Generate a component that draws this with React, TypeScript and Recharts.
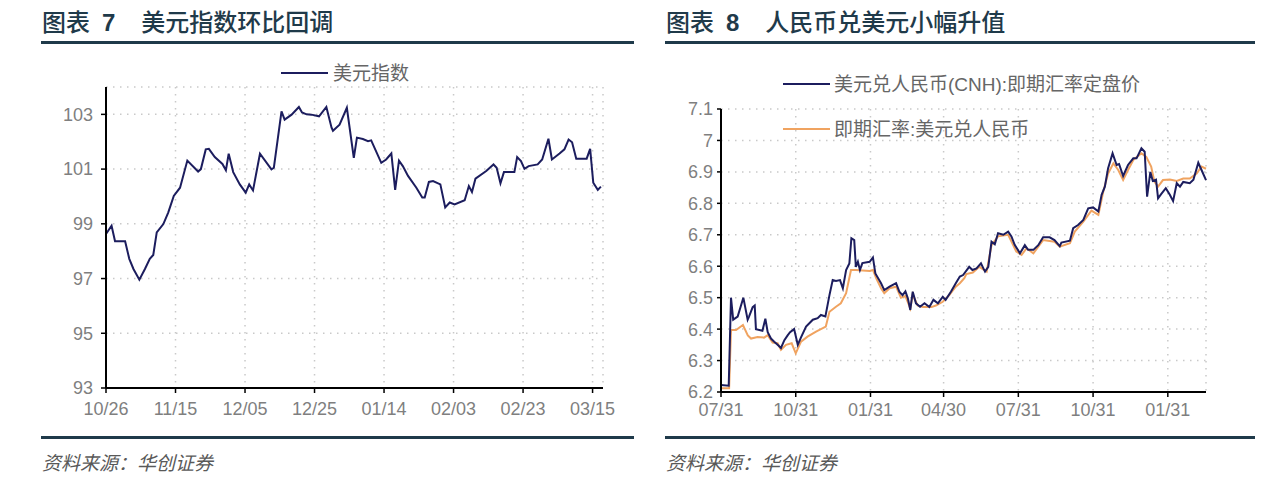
import React from 'react';
import { LineChart, Line, XAxis, YAxis, CartesianGrid } from 'recharts';

// 图表7：美元指数（横轴为距 10/26 的天数）
const dxyTickDays = [0, 20, 40, 60, 80, 100, 120, 140];
const dxyTickLabels = ['10/26', '11/15', '12/05', '12/25', '01/14', '02/03', '02/23', '03/15'];
const dxyYTicks = [93, 95, 97, 99, 101, 103];
const dxyDays = [
  0, 1.6, 2.6, 5.5, 6.7, 7.9, 9.6, 11.2, 12.6, 13.6, 14.6, 16.5, 17.9, 19.5, 21.3, 23.4, 26.5, 27.3, 28.7, 29.6,
  31.3, 33.5, 34.5, 35.3, 36.6, 38.5, 40.2, 41.2, 42.3, 44.3, 47.6, 48.3, 50.5, 51.4, 53.4, 55.5, 56.4, 57.7, 59.1, 61.3,
  63.4, 64.9, 65.3, 67.2, 69.3, 71.3, 72.2, 73.9, 75.4, 76.3, 79.2, 80.6, 82.1, 83.2, 84.3, 85.4, 86.9, 89.3, 91, 91.7,
  92.9, 94.1, 96.2, 97.6, 98.9, 100.3, 103.2, 104.4, 105.3, 106.3, 109.4, 111.5, 112.4, 113.5, 114.5, 117.5, 118.3, 119.4, 120.4, 121.6,
  124.2, 125.5, 127.3, 128.3, 130.5, 131.9, 133.1, 134.1, 135.3, 138.3, 139.3, 140.2, 141.5, 142.4,
];
const dxyValues = [
  98.63, 98.93, 98.36, 98.36, 97.72, 97.35, 96.96, 97.35, 97.72, 97.86, 98.69, 98.99, 99.41, 100.02, 100.32, 101.31, 100.91, 101.0, 101.72, 101.74,
  101.44, 101.19, 100.96, 101.56, 100.89, 100.44, 100.14, 100.44, 100.22, 101.56, 100.99, 101.05, 103.11, 102.81, 102.99, 103.27, 103.07, 103.0, 102.99, 102.93,
  103.27, 102.51, 102.4, 102.62, 103.24, 101.41, 102.15, 102.1, 102.02, 102.05, 101.23, 101.35, 101.57, 100.24, 101.31, 101.11, 100.75, 100.32, 99.96, 99.96,
  100.53, 100.56, 100.44, 99.6, 99.78, 99.71, 99.86, 100.38, 100.16, 100.65, 100.93, 101.17, 101.05, 100.48, 100.89, 100.89, 101.44, 101.29, 101.01, 101.11,
  101.17, 101.35, 102.11, 101.35, 101.57, 101.72, 102.08, 101.98, 101.38, 101.38, 101.74, 100.5, 100.24, 100.36,
];

// 图表8：人民币汇率（横轴为距 2015/07/31 的天数）
const fxTickDays = [0, 92, 184, 274, 366, 458, 550];
const fxTickLabels = ['07/31', '10/31', '01/31', '04/30', '07/31', '10/31', '01/31'];
const fxYTicks = [6.2, 6.3, 6.4, 6.5, 6.6, 6.7, 6.8, 6.9, 7.0, 7.1];
const cnhDays = [
  0, 9.5, 12.3, 15, 20.5, 27.5, 32.8, 34.5, 39, 41.5, 43, 51, 54.6, 57.5, 61.5, 65.5, 69.7, 73.8, 78, 82,
  85, 90, 94.5, 98.5, 104.7, 113, 119, 123, 128.5, 133.5, 137.5, 141.5, 146.5, 150, 154, 158, 160.5, 164, 166, 168.5,
  171, 174, 183, 187, 190, 197, 201, 207.5, 215.5, 219.5, 223.5, 227, 230, 233, 236, 240, 245, 250.5, 256.5, 261.5,
  267, 273, 276.5, 283, 289, 294, 298, 305.5, 309.5, 314.5, 320, 323, 325, 329, 333, 337, 341, 347.5, 353.5, 357.5,
  361.5, 368, 374, 378, 384.5, 390.5, 396.5, 404.5, 410.5, 417, 419, 429.5, 433.5, 439.5, 446, 452, 458, 464.5, 468.5, 472.5,
  476.5, 482, 487, 490, 495, 501, 507.5, 511.5, 517.5, 521.5, 524.5, 528.5, 531.5, 535.5, 538, 542, 547.5, 552.5, 556.5, 561,
  565, 569, 577, 581.5, 587.5, 591.5, 597,
];
const cnhValues = [
  6.222, 6.22, 6.5, 6.43, 6.44, 6.5, 6.43, 6.44, 6.47, 6.475, 6.4, 6.395, 6.433, 6.39, 6.37, 6.36, 6.35, 6.34, 6.365, 6.38,
  6.39, 6.4, 6.35, 6.374, 6.408, 6.43, 6.435, 6.445, 6.44, 6.508, 6.556, 6.553, 6.556, 6.53, 6.588, 6.609, 6.689, 6.683, 6.598, 6.614,
  6.588, 6.61, 6.614, 6.628, 6.577, 6.546, 6.524, 6.535, 6.546, 6.519, 6.508, 6.52, 6.498, 6.461, 6.519, 6.482, 6.471, 6.482, 6.47, 6.493,
  6.482, 6.503, 6.493, 6.519, 6.546, 6.567, 6.572, 6.598, 6.588, 6.593, 6.609, 6.593, 6.583, 6.598, 6.678, 6.67, 6.705, 6.7, 6.71, 6.695,
  6.668, 6.641, 6.667, 6.652, 6.652, 6.667, 6.692, 6.692, 6.683, 6.664, 6.675, 6.681, 6.721, 6.731, 6.747, 6.784, 6.787, 6.774, 6.827, 6.853,
  6.912, 6.959, 6.922, 6.925, 6.887, 6.922, 6.943, 6.943, 6.975, 6.964, 6.821, 6.9, 6.871, 6.875, 6.816, 6.83, 6.848, 6.827, 6.807, 6.864,
  6.853, 6.868, 6.864, 6.875, 6.929, 6.906, 6.874,
];
const spotDays = [
  0, 10, 12.3, 18.5, 27, 33, 37, 45, 53, 57.5, 63.5, 69.7, 73.8, 80, 87, 92, 98.5, 106.5, 117, 129,
  133.5, 141.5, 147.5, 154, 160, 166, 183, 187, 191, 197, 201, 207.5, 215.5, 221.5, 227, 233, 236, 242, 248.5, 259,
  264.5, 273, 281, 289, 294, 299.5, 302, 310, 318, 327, 333, 341, 353.5, 363.5, 370, 376, 384.5, 396.5, 410.5, 417,
  429.5, 435.5, 446, 456, 464.5, 470.5, 476.5, 483, 489, 495, 501, 507.5, 517.5, 523.5, 529.5, 533.5, 538, 544, 552.5, 561,
  569, 577, 585.5, 591.5, 597,
];
const spotValues = [
  6.212, 6.212, 6.397, 6.397, 6.413, 6.38, 6.37, 6.375, 6.373, 6.381, 6.357, 6.355, 6.334, 6.35, 6.355, 6.323, 6.36, 6.376, 6.392, 6.408,
  6.455, 6.471, 6.482, 6.514, 6.588, 6.588, 6.585, 6.588, 6.562, 6.53, 6.514, 6.53, 6.535, 6.5, 6.505, 6.466, 6.51, 6.475, 6.47, 6.47,
  6.475, 6.487, 6.508, 6.535, 6.546, 6.562, 6.575, 6.58, 6.598, 6.583, 6.667, 6.695, 6.7, 6.647, 6.636, 6.657, 6.641, 6.683, 6.678, 6.662,
  6.673, 6.71, 6.742, 6.777, 6.763, 6.837, 6.895, 6.927, 6.906, 6.874, 6.906, 6.938, 6.959, 6.948, 6.917, 6.869, 6.853, 6.874, 6.876, 6.871,
  6.879, 6.879, 6.895, 6.917, 6.91,
];

const dxyData = dxyDays.map((d, i) => ({ d, v: dxyValues[i] }));
const cnhData = cnhDays.map((d, i) => ({ d, v: cnhValues[i] }));
const spotData = spotDays.map((d, i) => ({ d, v: spotValues[i] }));

const NAVY = '#1c1d5e';
const ORANGE = '#f0a360';
const RULE = '#1f3a4a';
const CJK = '"Noto Sans CJK SC", sans-serif';
const tickFont = { fontSize: 18, fill: '#7f7f7f', fontFamily: '"Liberation Sans", Arial, sans-serif' };
const legendText = { position: 'absolute' as const, fontSize: 19, lineHeight: '24px', color: '#666', fontFamily: '"Liberation Sans", ' + CJK, whiteSpace: 'nowrap' as const };

function Panel({ left, width, no, title }: { left: number; width: number; no: string; title: string }) {
  return (
    <>
      <div style={{ position: 'absolute', left: left + 1, top: 6, fontSize: 24, lineHeight: '30px', color: RULE, fontFamily: CJK, fontWeight: 500, whiteSpace: 'nowrap' }}>
        <span>图表</span>
        <span style={{ marginLeft: 12, fontFamily: '"Liberation Sans", Arial', fontWeight: 700 }}>{no}</span>
        <span style={{ marginLeft: 26 }}>{title}</span>
      </div>
      <div style={{ position: 'absolute', left, top: 41, width, height: 3, background: RULE }} />
      <div style={{ position: 'absolute', left, top: 436, width, height: 3, background: RULE }} />
      <div style={{ position: 'absolute', left: left + 1, top: 449, fontSize: 19, lineHeight: '26px', color: '#595959', fontFamily: CJK, fontStyle: 'italic' }}>
        资料来源：华创证券
      </div>
    </>
  );
}

export default function App() {
  return (
    <div style={{ position: 'absolute', left: 0, top: 0, width: 1280, height: 489, background: '#fff', overflow: 'hidden' }}>
      <Panel left={41} width={593} no="7" title="美元指数环比回调" />
      <Panel left={665} width={590} no="8" title="人民币兑美元小幅升值" />

      {/* 左图 */}
      <div style={{ position: 'absolute', left: 0, top: 0 }}>
        <LineChart width={640} height={440} data={dxyData} margin={{ top: 87, right: 37, bottom: 22, left: 46 }}>
          <CartesianGrid stroke="#c9c9c9" strokeDasharray="1.5 5.5" strokeWidth={1.5} />
          <XAxis
            dataKey="d"
            type="number"
            domain={[0, 143]}
            ticks={dxyTickDays}
            tickFormatter={(v: number) => dxyTickLabels[dxyTickDays.indexOf(v)]}
            height={30}
            tick={tickFont}
            tickSize={5}
            tickMargin={9}
            axisLine={{ stroke: '#000', strokeWidth: 2 }}
            tickLine={{ stroke: '#000', strokeWidth: 1.5 }}
          />
          <YAxis
            type="number"
            domain={[93, 104]}
            ticks={dxyYTicks}
            width={60}
            tick={tickFont}
            tickSize={5}
            tickMargin={8}
            axisLine={{ stroke: '#000', strokeWidth: 2 }}
            tickLine={{ stroke: '#000', strokeWidth: 1.5 }}
          />
          <Line type="linear" dataKey="v" stroke={NAVY} strokeWidth={2} dot={false} isAnimationActive={false} />
        </LineChart>
      </div>
      <div style={{ position: 'absolute', left: 281, top: 72, width: 47, height: 2, background: NAVY }} />
      <div style={{ ...legendText, left: 333, top: 62 }}>美元指数</div>

      {/* 右图 */}
      <div style={{ position: 'absolute', left: 640, top: 0 }}>
        <LineChart width={640} height={440} margin={{ top: 109, right: 74, bottom: 18, left: 21 }}>
          <CartesianGrid stroke="#c9c9c9" strokeDasharray="1.5 5.5" strokeWidth={1.5} />
          <XAxis
            dataKey="d"
            type="number"
            domain={[0, 597]}
            ticks={fxTickDays}
            tickFormatter={(v: number) => fxTickLabels[fxTickDays.indexOf(v)]}
            allowDuplicatedCategory={false}
            height={30}
            tick={tickFont}
            tickSize={5}
            tickMargin={6}
            axisLine={{ stroke: '#000', strokeWidth: 2 }}
            tickLine={{ stroke: '#000', strokeWidth: 1.5 }}
          />
          <YAxis
            type="number"
            domain={[6.2, 7.1]}
            ticks={fxYTicks}
            tickFormatter={(v: number) => String(Math.round(v * 10) / 10)}
            width={60}
            tick={tickFont}
            tickSize={4}
            tickMargin={4}
            axisLine={{ stroke: '#000', strokeWidth: 2 }}
            tickLine={{ stroke: '#000', strokeWidth: 1.5 }}
          />
          <Line data={spotData} type="linear" dataKey="v" stroke={ORANGE} strokeWidth={2} dot={false} isAnimationActive={false} />
          <Line data={cnhData} type="linear" dataKey="v" stroke={NAVY} strokeWidth={2} dot={false} isAnimationActive={false} />
        </LineChart>
      </div>
      <div style={{ position: 'absolute', left: 783, top: 83, width: 47, height: 2, background: NAVY }} />
      <div style={{ ...legendText, left: 834, top: 73 }}>美元兑人民币(CNH):即期汇率定盘价</div>
      <div style={{ position: 'absolute', left: 783, top: 128, width: 47, height: 2, background: ORANGE }} />
      <div style={{ ...legendText, left: 834, top: 118 }}>即期汇率:美元兑人民币</div>
    </div>
  );
}
